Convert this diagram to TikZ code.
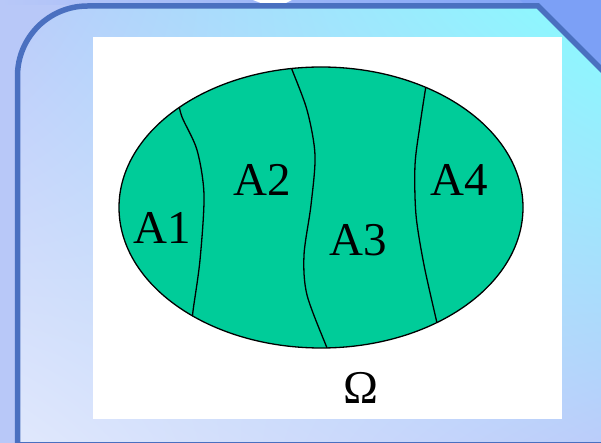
\documentclass[tikz,border=0pt]{standalone}
\usepackage{fontspec}
\setmainfont{Liberation Serif}
\usetikzlibrary{shadings}
\definecolor{setgreen}{RGB}{0,204,153}
\definecolor{framecol}{RGB}{74,112,192}
\definecolor{outerlav}{RGB}{184,200,248}
\definecolor{outerblue}{RGB}{124,160,246}
\definecolor{bgcyan}{RGB}{136,252,255}
\definecolor{bgpale}{RGB}{224,232,252}
\definecolor{bglav}{RGB}{186,204,250}

\begin{document}
\begin{tikzpicture}[x=1pt,y=-1pt,
  lab/.style={inner sep=0pt,font=\rmfamily\fontsize{47}{50}\selectfont},
  part/.style={black,line width=1.3pt}]
  \useasboundingbox (0,0) rectangle (601,443);
  % slide backdrop and frame
  \fill[outerlav] (0,0) rectangle (601,443);
  \shade[left color=outerlav,right color=outerblue] (0,0) rectangle (601,5);
  \fill[outerblue] (520,0) -- (601,0) -- (601,80) -- cycle;
  \fill[white] (253,0) -- (292,0) -- (285,3.5) -- (262,3.5) -- cycle;
  \shade[upper left=bglav,upper right=bgcyan,lower left=bgpale,lower right=bglav]
    (17.5,443) -- (17.5,76) arc[start angle=180,end angle=270,radius=70] -- (538,6) -- (612,80) -- (612,443) -- cycle;
  \draw[framecol,line width=5.5pt] (17.5,450) -- (17.5,76) arc[start angle=180,end angle=270,radius=70] -- (538,6) -- (612,80);
  \draw[framecol,line width=1.3pt] (17,442.4) -- (601,442.4);
  \fill[white] (93,37) rectangle (562,419);

  % the partition of Omega
  \fill[setgreen] (321,207.5) ellipse[x radius=202,y radius=140.5];
  \begin{scope}
    \clip (321,207.5) ellipse[x radius=202,y radius=140.5];
    \draw[part] plot[smooth] coordinates {(178,100) (182,117) (197,150) (204,195) (200,260) (193,311) (192,325)};
    \draw[part] plot[smooth] coordinates {(287,55) (291,67) (307,110) (315,155) (311,205) (304,255) (307,295) (327,348) (331,358)};
    \draw[part] plot[smooth] coordinates {(427,80) (425,92) (420,125) (415,165) (416,215) (424,265) (437,323) (440,335)};
  \end{scope}
  \draw[part] (321,207.5) ellipse[x radius=202,y radius=140.5];

  \foreach \name/\x/\y in {A1/162/228, A2/262/180, A3/358/240, A4/459/180}
    \node[lab] (\name) at (\x,\y) {\name};
  \node[lab] (omega) at (361,388) {Ω};
\end{tikzpicture}
\end{document}
